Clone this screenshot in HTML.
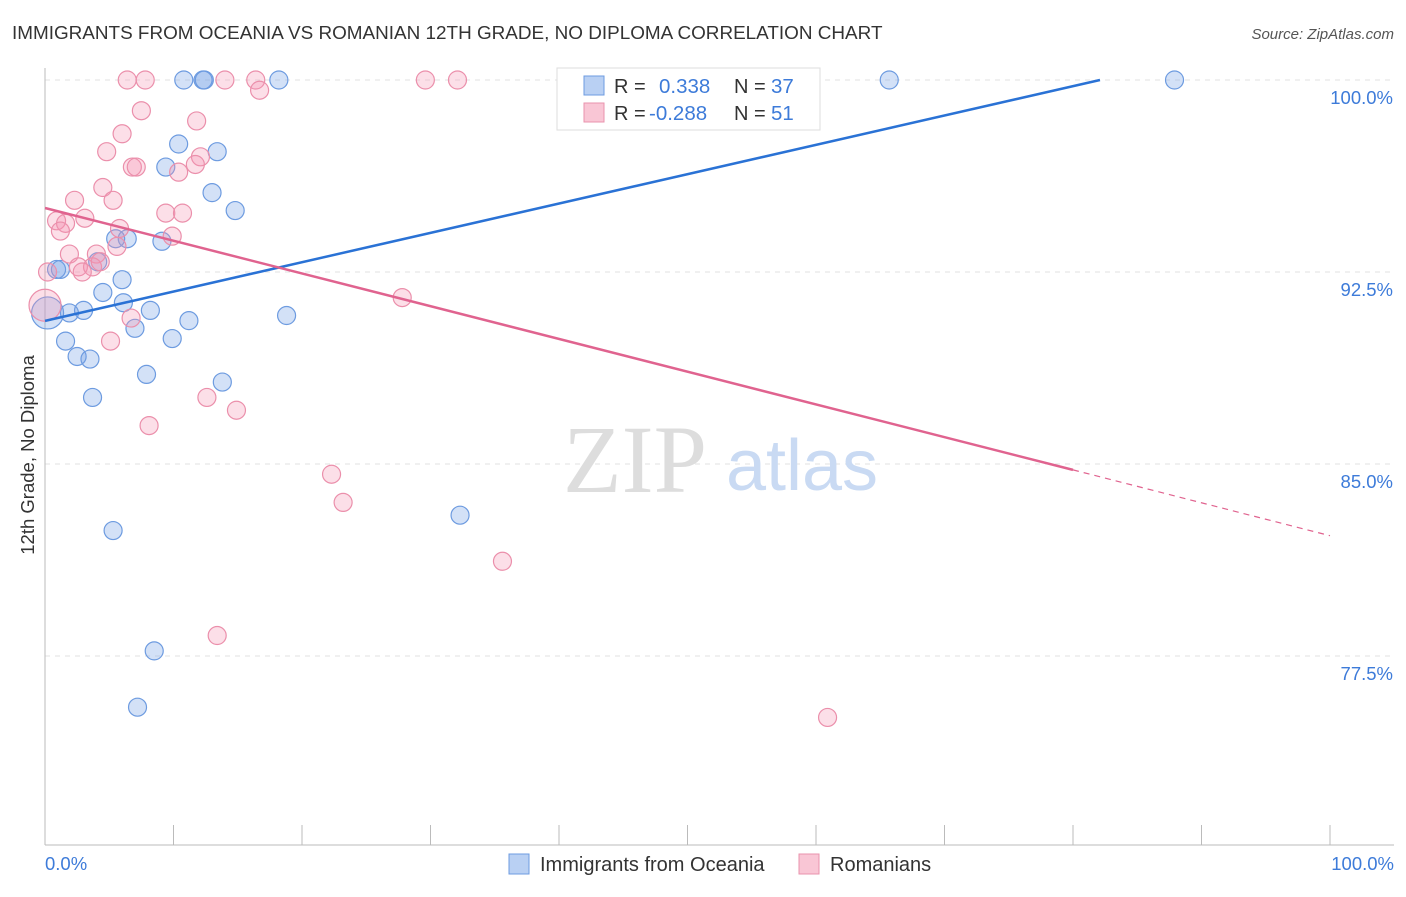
<!DOCTYPE html>
<html><head><meta charset="utf-8"><style>
body{margin:0;background:#fff;font-family:"Liberation Sans",sans-serif;}
</style></head><body>
<svg width="1406" height="892" xmlns="http://www.w3.org/2000/svg" font-family="Liberation Sans, sans-serif">
<text x="12" y="39" font-size="18.9" fill="#333">IMMIGRANTS FROM OCEANIA VS ROMANIAN 12TH GRADE, NO DIPLOMA CORRELATION CHART</text>
<text x="1394" y="39" font-size="15" fill="#555" font-style="italic" text-anchor="end">Source: ZipAtlas.com</text>
<g id="grid"></g>
<g>
<text x="635" y="492" font-size="96" fill="#ddd" font-family="Liberation Serif, serif" text-anchor="middle">ZIP</text>
<text x="802" y="490" font-size="72" fill="#c9daf3" text-anchor="middle">atlas</text>
</g>
<line x1="45" y1="68" x2="45" y2="845" stroke="#bbb"/>
<line x1="45" y1="845" x2="1394" y2="845" stroke="#bbb"/>
<g id="ticks"></g>
<g id="ylabels"></g>
<text x="45" y="870" font-size="18.5" fill="#3d7bd9">0.0%</text>
<text x="1394" y="870" font-size="18.5" fill="#3d7bd9" text-anchor="end">100.0%</text>
<text transform="translate(34,455) rotate(-90)" font-size="18.5" fill="#333" text-anchor="middle">12th Grade, No Diploma</text>
<g id="pts"></g>
<g id="lines"></g>
<g>
<rect x="557" y="68" width="263" height="62" fill="#fff" stroke="#ddd"/>
<rect x="584" y="76" width="20" height="19" fill="#b9d0f3" stroke="#6d9be0"/>
<rect x="584" y="103" width="20" height="19" fill="#f9c6d5" stroke="#e993ad"/>
<text x="614" y="93" font-size="20" fill="#333">R =</text>
<text x="659" y="93" font-size="20.5" fill="#3d7bd9">0.338</text>
<text x="734" y="93" font-size="20" fill="#333">N =</text>
<text x="771" y="93" font-size="20.5" fill="#3d7bd9">37</text>
<text x="614" y="120" font-size="20" fill="#333">R =</text>
<text x="649" y="120" font-size="20.5" fill="#3d7bd9">-0.288</text>
<text x="734" y="120" font-size="20" fill="#333">N =</text>
<text x="771" y="120" font-size="20.5" fill="#3d7bd9">51</text>
</g>
<g>
<rect x="509" y="854" width="20" height="20" fill="#b9d0f3" stroke="#6d9be0"/>
<text x="540" y="871" font-size="20" fill="#333">Immigrants from Oceania</text>
<rect x="799" y="854" width="20" height="20" fill="#f9c6d5" stroke="#e993ad"/>
<text x="830" y="871" font-size="20" fill="#333">Romanians</text>
</g>
</svg>
<script>
const yTicks=[100,92.5,85,77.5];
const yTickLabels=["100.0%","92.5%","85.0%","77.5%"];
const blueX=[10.8,12.3,12.4,18.2,65.7,87.9,10.4,13.4,9.4,13.0,14.8,5.5,6.4,9.1,0.9,1.2,4.1,6.0,4.5,6.1,3.0,8.2,1.9,0.2,7.0,11.2,18.8,9.9,1.6,2.5,3.5,7.9,13.8,3.7,32.3,5.3,8.5,7.2];
const blueY=[100,100,100,100,100,100,97.5,97.2,96.6,95.6,94.9,93.8,93.8,93.7,92.6,92.6,92.9,92.2,91.7,91.3,91.0,91.0,90.9,90.9,90.3,90.6,90.8,89.9,89.8,89.2,89.1,88.5,88.2,87.6,83.0,82.4,77.7,75.5];
const pinkX=[6.4,7.8,14.0,16.4,29.6,32.1,54.0,16.7,7.5,11.8,6.0,4.8,12.1,6.8,7.1,10.4,11.7,4.5,5.3,2.3,3.1,0.9,1.6,1.2,9.4,10.7,5.8,9.9,5.6,1.9,4.0,2.6,3.7,2.9,4.3,0.0,27.8,6.7,5.1,12.6,14.9,8.1,22.3,23.2,35.6,13.4,60.9,0.2];
const pinkY=[100,100,100,100,100,100,100,99.6,98.8,98.4,97.9,97.2,97.0,96.6,96.6,96.4,96.7,95.8,95.3,95.3,94.6,94.5,94.4,94.1,94.8,94.8,94.2,93.9,93.5,93.2,93.2,92.7,92.7,92.5,92.9,91.2,91.5,90.7,89.8,87.6,87.1,86.5,84.6,83.5,81.2,78.3,75.1,92.5];
const blueTrend=[0,82.1,90.59,100];
const pinkTrend=[0,80,100,95.0,84.77,82.2];
const X=v=>45+v*12.85, Y=v=>80+(100-v)*25.6;
const NS="http://www.w3.org/2000/svg";
function mk(t,a,p){const e=document.createElementNS(NS,t);for(const k in a)e.setAttribute(k,a[k]);p.appendChild(e);return e;}
const grid=document.getElementById('grid'),yl=document.getElementById('ylabels');
yTicks.forEach((t,i)=>{const l=mk('line',{x1:45,x2:1394,y1:Y(t),y2:Y(t),stroke:'#e2e2e2','stroke-dasharray':'5,5'},grid);


const tx=mk('text',{x:1393,y:Y(t)+24,'font-size':18.5,fill:'#3d7bd9','text-anchor':'end'},yl);tx.textContent=yTickLabels[i];

});
const tk=document.getElementById('ticks');
for(let i=0;i<=10;i++){const l=mk('line',{x1:X(i*10),x2:X(i*10),y1:825,y2:845,stroke:'#bbb'},tk);

}
const pts=document.getElementById('pts');
blueX.forEach((x,i)=>{const r=(i==23)?16:9;const c=mk('circle',{cx:X(x),cy:Y(blueY[i]),r:r,fill:'rgba(110,155,230,0.3)',stroke:'#6d9be0','stroke-width':1.2},pts);

});
pinkX.forEach((x,i)=>{const r=(i==35)?16:9;const c=mk('circle',{cx:X(x),cy:Y(pinkY[i]),r:r,fill:'rgba(244,150,180,0.3)',stroke:'#eb8fab','stroke-width':1.2},pts);

});
const ln=document.getElementById('lines');
let b=mk('line',{x1:X(blueTrend[0]),y1:Y(blueTrend[2]),x2:X(blueTrend[1]),y2:Y(blueTrend[3]),stroke:'#2a72d5','stroke-width':2.5},ln);


let p=mk('line',{x1:X(pinkTrend[0]),y1:Y(pinkTrend[3]),x2:X(pinkTrend[1]),y2:Y(pinkTrend[4]),stroke:'#e0638f','stroke-width':2.5},ln);


let pd=mk('line',{x1:X(pinkTrend[1]),y1:Y(pinkTrend[4]),x2:X(pinkTrend[2]),y2:Y(pinkTrend[5]),stroke:'#e0638f','stroke-width':1.2,'stroke-dasharray':'6,5'},ln);


</script>
</body></html>
